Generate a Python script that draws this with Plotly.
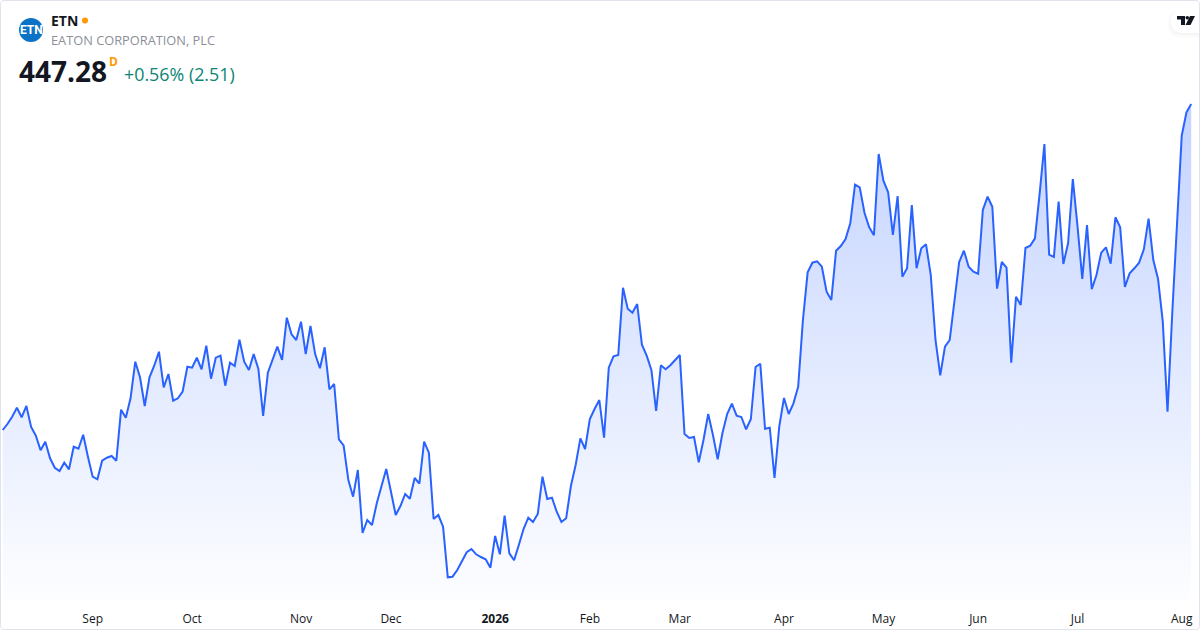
import plotly.graph_objects as go

# daily closes
closes = [
    349.48, 351.28, 353.47, 356.17, 353.29, 356.68, 350.38, 347.77, 343.39, 345.97,
    340.99, 338.17, 337.18, 339.67, 337.69, 344.47, 343.87, 348.07, 341.47, 335.47,
    334.69, 340.27, 341.17, 341.68, 340.27, 355.57, 353.17, 358.99, 369.97, 365.29,
    356.68, 365.29, 368.77, 372.97, 362.29, 366.28, 358.27, 358.99, 360.97, 368.47,
    368.17, 371.17, 367.69, 374.77, 364.87, 371.17, 371.77, 362.77, 369.67, 368.68,
    376.57, 369.97, 367.48, 372.28, 367.78, 353.68, 366.67, 370.69, 374.47, 370.48,
    383.17, 378.19, 376.48, 381.97, 372.28, 380.68, 372.19, 367.99, 374.29, 361.69,
    363.28, 346.69, 344.89, 334.48, 329.47, 337.48, 318.58, 322.48, 320.98, 327.49,
    332.98, 337.78, 330.97, 323.98, 326.68, 330.28, 328.87, 335.08, 333.37, 345.97,
    342.67, 322.78, 323.98, 320.47, 305.29, 305.47, 307.48, 310.18, 312.79, 313.78,
    312.19, 311.38, 310.69, 308.17, 317.68, 312.19, 323.77, 312.49, 310.39, 314.98,
    319.78, 323.17, 321.88, 324.28, 335.47, 328.78, 329.17, 324.97, 321.88, 322.99,
    332.68, 338.98, 346.99, 343.78, 352.78, 355.78, 358.48, 347.17, 368.17, 371.59,
    371.98, 392.17, 385.87, 384.67, 387.28, 375.07, 371.77, 367.48, 355.18, 368.89,
    367.69, 368.89, 370.48, 371.98, 348.28, 347.08, 347.38, 339.79, 346.48, 354.28,
    347.98, 340.69, 348.49, 354.28, 357.37, 353.77, 353.38, 349.69, 352.69, 368.38,
    369.37, 349.87, 350.17, 335.08, 350.47, 359.08, 354.28, 357.49, 362.47, 382.48,
    396.79, 399.67, 400.09, 398.47, 390.97, 388.48, 403.27, 404.68, 406.78, 411.49,
    423.07, 422.29, 414.67, 410.29, 407.89, 432.28, 424.27, 420.79, 407.98, 419.68,
    395.47, 397.99, 416.98, 397.99, 403.99, 405.19, 395.98, 376.48, 365.89, 374.47,
    376.48, 387.49, 399.88, 403.27, 398.47, 396.97, 396.37, 415.48, 419.47, 416.47,
    391.87, 399.88, 398.17, 369.67, 389.47, 386.98, 404.08, 404.77, 406.99, 420.49,
    435.28, 402.07, 401.38, 417.97, 399.28, 405.49, 424.78, 410.47, 394.78, 410.98,
    391.69, 395.98, 402.67, 404.29, 399.37, 413.29, 410.29, 392.38, 396.49, 397.99,
    399.67, 403.69, 412.87, 400.48, 394.78, 381.97, 354.97, 384.49, 411.49, 437.77,
    444.79, 447.28,
]
# bar index of the first session of each month
month_bars = [19, 40, 63, 82, 104, 124, 143, 165, 186, 206, 227, 249]
month_labels = ["Sep", "Oct", "Nov", "Dec", "<b>2026</b>", "Feb", "Mar", "Apr", "May", "Jun", "Jul", "Aug"]

W, H, PANE = 1200, 630, 600
LINE = "#2962FF"
FONT = "Open Sans"


def px(x, y):
    # figure pixels to paper coordinates
    return x / W, 1 - y / PANE


def path(points):
    return "M " + " L ".join("%.5f %.5f" % px(*p) for p in points) + " Z"


def pill(x0, y0, x1, y1, color):
    r = (y1 - y0) / 2
    a = "M %.5f %.5f " % px(x1, y0)
    a += "L %.5f %.5f " % px(x0 + r, y0)
    a += "Q %.5f %.5f %.5f %.5f " % (*px(x0, y0), *px(x0, y0 + r))
    a += "Q %.5f %.5f %.5f %.5f " % (*px(x0, y1), *px(x0 + r, y1))
    a += "L %.5f %.5f Z" % px(x1, y1)
    return dict(type="path", xref="paper", yref="paper", path=a, fillcolor=color, line_width=0)


def rounded_frame(x0, y0, x1, y1, r, color):
    a = "M %.5f %.5f " % px(x0 + r, y0)
    a += "L %.5f %.5f " % px(x1 - r, y0)
    a += "Q %.5f %.5f %.5f %.5f " % (*px(x1, y0), *px(x1, y0 + r))
    a += "L %.5f %.5f " % px(x1, y1 - r)
    a += "Q %.5f %.5f %.5f %.5f " % (*px(x1, y1), *px(x1 - r, y1))
    a += "L %.5f %.5f " % px(x0 + r, y1)
    a += "Q %.5f %.5f %.5f %.5f " % (*px(x0, y1), *px(x0, y1 - r))
    a += "L %.5f %.5f " % px(x0, y0 + r)
    a += "Q %.5f %.5f %.5f %.5f Z" % (*px(x0, y0), *px(x0 + r, y0))
    return dict(type="path", xref="paper", yref="paper", path=a,
                line=dict(color=color, width=1), fillcolor="rgba(0,0,0,0)")


def circle(cx, cy, r, color):
    x0, y0 = px(cx - r, cy + r)
    x1, y1 = px(cx + r, cy - r)
    return dict(type="circle", xref="paper", yref="paper", x0=x0, y0=y0, x1=x1, y1=y1,
                fillcolor=color, line_width=0)


def label(x, y, text, size, color, bold=False):
    xp, yp = px(x, y)
    return dict(xref="paper", yref="paper", x=xp, y=yp, text="<b>%s</b>" % text if bold else text,
                showarrow=False, xanchor="left", yanchor="middle", borderpad=0, borderwidth=0,
                font=dict(family=FONT, size=size, color=color))


fig = go.Figure(go.Scatter(
    x=list(range(len(closes))),
    y=closes,
    mode="lines",
    line=dict(color=LINE, width=2),
    fill="tozeroy",
    fillcolor="rgba(41,98,255,0.15)",
    fillgradient=dict(
        type="vertical",
        start=298.48,
        stop=447.28,
        colorscale=[[0, "rgba(41,98,255,0.01)"], [1, "rgba(41,98,255,0.28)"]],
    ),
    hoverinfo="skip",
))

shapes = [
    rounded_frame(0.5, 0.5, 1199.5, 629.5, 4, "#E0E3EB"),
    circle(31, 30, 12, "#0C72C6"),
    circle(85, 20.5, 3, "#FF9800"),
    pill(1167, 9, 1199, 38, "rgba(0,0,0,0.008)"),
    pill(1168, 10, 1199, 37, "rgba(0,0,0,0.012)"),
    pill(1170, 10, 1199, 35, "rgba(0,0,0,0.018)"),
    pill(1171, 10, 1199, 33, "#FFFFFF"),
    dict(type="path", xref="paper", yref="paper", fillcolor="#131722", line_width=0,
         path=path([(1177, 16), (1185, 16), (1185, 25), (1181, 25), (1181, 19.5), (1177, 19.5)])),
    circle(1187.3, 17.8, 1.8, "#131722"),
    dict(type="path", xref="paper", yref="paper", fillcolor="#131722", line_width=0,
         path=path([(1190, 16), (1195, 16), (1190.5, 25), (1185.5, 25)])),
]

annotations = [
    label(51, 20.5, "ETN", 14, "#131722", bold=True),
    label(51, 40, "EATON CORPORATION, PLC", 12.8, "#8B8F99"),
    label(19, 71, "447.28", 28, "#131722", bold=True),
    label(108.5, 61, "D", 12, "#FF9800", bold=True),
    label(124, 74.5, "+0.56% (2.51)", 17.85, "#0B8574"),
    dict(xref="paper", yref="paper", x=31 / W, y=1 - 30.5 / PANE, text="<b>ETN</b>", showarrow=False,
         xanchor="center", yanchor="middle", font=dict(family="Roboto", size=12, color="#FFFFFF")),
]

fig.update_layout(
    width=W,
    height=H,
    margin=dict(l=0, r=0, t=0, b=H - PANE, pad=0),
    paper_bgcolor="#FFFFFF",
    plot_bgcolor="#FFFFFF",
    showlegend=False,
    font=dict(family=FONT, size=12, color="#131722"),
    shapes=shapes,
    annotations=annotations,
)
fig.update_xaxes(
    range=[-0.57, 252.86],
    tickmode="array",
    tickvals=month_bars,
    ticktext=month_labels,
    tickangle=0,
    ticks="outside",
    ticklen=8,
    tickcolor="rgba(0,0,0,0)",
    tickfont=dict(family=FONT, size=12, color="#131722"),
    showgrid=False,
    zeroline=False,
    showline=False,
)
fig.update_yaxes(visible=False, range=[298.48, 478.48])

fig.write_html("out.html", config=dict(displayModeBar=False),
               post_script="document.body.style.margin='0';")
